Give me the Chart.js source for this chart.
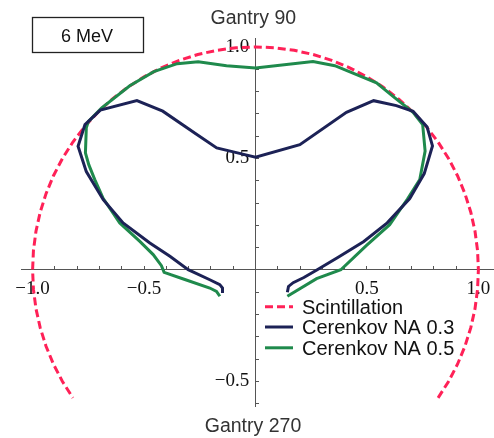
<!DOCTYPE html>
<html>
<head>
<meta charset="utf-8">
<script src="https://cdn.jsdelivr.net/npm/chart.js@4.4.1/dist/chart.umd.min.js"></script>
<style>
  html, body { margin: 0; padding: 0; background: #fff; }
  #wrap { width: 494px; height: 438px; }
</style>
</head>
<body>
<div id="wrap"><canvas id="chart" width="494" height="438"></canvas></div>
<script>
// Scintillation: unit radius, polar angle in degrees
const scintAngles = [-35, -30, -25, -20, -15, -10, -5, 0, 5, 10, 15, 20, 25, 30, 35, 40, 45, 50, 55, 60,
    65, 70, 75, 80, 85, 90, 95, 100, 105, 110, 115, 120, 125, 130, 135, 140, 145, 150, 155, 160,
    165, 170, 175, 180, 185, 190, 195, 200, 205, 210, 215];
const scintRadius = [1, 1, 1, 1, 1, 1, 1, 1, 1, 1, 1, 1, 1, 1, 1, 1, 1, 1, 1, 1,
    1, 1, 1, 1, 1, 1, 1, 1, 1, 1, 1, 1, 1, 1, 1, 1, 1, 1, 1, 1,
    1, 1, 1, 1, 1, 1, 1, 1, 1, 1, 1];

// Cerenkov NA 0.3 (x / y)
const na03X = [-0.148, -0.148, -0.160, -0.205, -0.302, -0.384, -0.474, -0.594, -0.683, -0.759, -0.796, -0.765,
    -0.696, -0.532, -0.416, -0.268, -0.174, -0.048, 0.0, 0.199, 0.408, 0.530, 0.632, 0.707, 0.770, 0.794,
    0.757, 0.692, 0.591, 0.486, 0.371, 0.277, 0.217, 0.169, 0.148, 0.143];
const na03Y = [-0.103, -0.081, -0.066, -0.044, 0.001, 0.061, 0.121, 0.211, 0.315, 0.441, 0.555, 0.652,
    0.717, 0.759, 0.712, 0.611, 0.547, 0.517, 0.506, 0.562, 0.707, 0.759, 0.737, 0.711, 0.641, 0.556,
    0.432, 0.320, 0.211, 0.128, 0.057, 0.001, -0.034, -0.057, -0.074, -0.100];

// Cerenkov NA 0.5
const na05X = [-0.160, -0.175, -0.205, -0.317, -0.410, -0.422, -0.459, -0.519, -0.609, -0.683, -0.721, -0.748,
    -0.763, -0.759, -0.750, -0.691, -0.564, -0.456, -0.351, -0.257, -0.130, 0.0, 0.258, 0.356, 0.543, 0.617,
    0.707, 0.750, 0.761, 0.737, 0.681, 0.602, 0.497, 0.383, 0.274, 0.143];
const na05Y = [-0.118, -0.096, -0.081, -0.043, -0.011, 0.019, 0.069, 0.128, 0.211, 0.320, 0.405, 0.472,
    0.525, 0.638, 0.665, 0.726, 0.826, 0.889, 0.925, 0.934, 0.916, 0.906, 0.935, 0.916, 0.839, 0.778,
    0.707, 0.652, 0.533, 0.405, 0.317, 0.203, 0.109, 0.001, -0.039, -0.118];

const seriesLabels = ['Scintillation', 'Cerenkov NA 0.3', 'Cerenkov NA 0.5'];
const majorTicks = [-10, -5, 5, 10]; // in tenths
const topLabel = 'Gantry 90';
const bottomLabel = 'Gantry 270';
const boxLabel = '6 MeV';

function toPoints(xs, ys) {
    return xs.map((x, i) => ({ x: x, y: ys[i] }));
}

function polarToPoints(angles, radii) {
    return angles.map((a, i) => {
        const t = a * Math.PI / 180;
        return { x: radii[i] * Math.cos(t), y: radii[i] * Math.sin(t) };
    });
}

function tickLabel(v) {
    const t = Math.round(v * 10);
    if (!majorTicks.includes(t)) return '';
    return (t < 0 ? '\u2212' : '') + (Math.abs(t) / 10).toFixed(1);
}

// y labels sit right on the axis pixel, so pad them with a small space
function yTickLabel(v) {
    const s = tickLabel(v);
    return s ? s + '\u2004' : '';
}

// titles, the energy box and the legend
const decorPlugin = {
    id: 'decor',
    afterDraw(chart) {
        const ctx = chart.ctx;
        ctx.save();
        ctx.fillStyle = '#333';
        ctx.font = '19.5px "Liberation Sans"';
        ctx.textAlign = 'center';
        ctx.textBaseline = 'alphabetic';
        ctx.fillText(topLabel, 253.3, 24);
        ctx.fillText(bottomLabel, 253, 431.5);

        ctx.strokeStyle = '#222';
        ctx.lineWidth = 1.3;
        ctx.strokeRect(32.5, 17.5, 111, 35);
        ctx.fillStyle = '#111';
        ctx.font = '18px "Liberation Sans"';
        ctx.fillText(boxLabel, 87, 41.5);

        ctx.font = '20px "Liberation Sans"';
        ctx.textAlign = 'left';
        const rows = [306.7, 327, 347.8];
        chart.data.datasets.forEach((ds, i) => {
            const y = rows[i];
            ctx.strokeStyle = ds.borderColor;
            ctx.lineWidth = ds.borderWidth;
            ctx.setLineDash(ds.borderDash || []);
            ctx.beginPath();
            ctx.moveTo(265, y);
            ctx.lineTo(293, y);
            ctx.stroke();
            ctx.setLineDash([]);
            ctx.fillStyle = '#111';
            ctx.fillText(ds.label, 302, y + 6.8);
        });
        ctx.restore();
    }
};

const axisColor = '#555';

new Chart(document.getElementById('chart'), {
    type: 'scatter',
    data: {
        datasets: [
            {
                label: seriesLabels[0],
                data: polarToPoints(scintAngles, scintRadius),
                borderColor: '#ff2157',
                borderWidth: 3,
                borderDash: [8, 4],
                showLine: true,
                pointRadius: 0,
                order: 3
            },
            {
                label: seriesLabels[1],
                data: toPoints(na03X, na03Y),
                borderColor: '#1c2256',
                borderWidth: 3,
                showLine: true,
                pointRadius: 0,
                order: 1
            },
            {
                label: seriesLabels[2],
                data: toPoints(na05X, na05Y),
                borderColor: '#1f8a4c',
                borderWidth: 3,
                showLine: true,
                pointRadius: 0,
                order: 2
            }
        ]
    },
    options: {
        responsive: false,
        animation: false,
        layout: { padding: { top: 38, bottom: 32, left: 21, right: 0 } },
        plugins: {
            legend: { display: false },
            tooltip: { enabled: false }
        },
        scales: {
            x: {
                type: 'linear',
                position: { y: 0 },
                min: -1.052,
                max: 1.07,
                border: { display: true, color: axisColor, width: 1 },
                grid: { drawOnChartArea: false, drawTicks: true, tickLength: -4, color: axisColor },
                ticks: {
                    stepSize: 0.1,
                    includeBounds: false,
                    autoSkip: false,
                    maxRotation: 0,
                    padding: 12,
                    color: '#111',
                    font: { family: 'Liberation Serif', size: 19 },
                    callback: tickLabel
                },
                afterFit(scale) {
                    scale.paddingLeft = 0;
                    scale.paddingRight = 0;
                }
            },
            y: {
                type: 'linear',
                position: { x: 0 },
                min: -0.61,
                max: 1.04,
                border: { display: true, color: axisColor, width: 1 },
                grid: { drawOnChartArea: false, drawTicks: true, tickLength: -4, color: axisColor },
                ticks: {
                    stepSize: 0.1,
                    includeBounds: false,
                    autoSkip: false,
                    padding: 6,
                    color: '#111',
                    font: { family: 'Liberation Serif', size: 19 },
                    callback: yTickLabel
                },
                afterFit(scale) {
                    scale.paddingTop = 0;
                    scale.paddingBottom = 0;
                }
            }
        }
    },
    plugins: [decorPlugin]
});
</script>
</body>
</html>
